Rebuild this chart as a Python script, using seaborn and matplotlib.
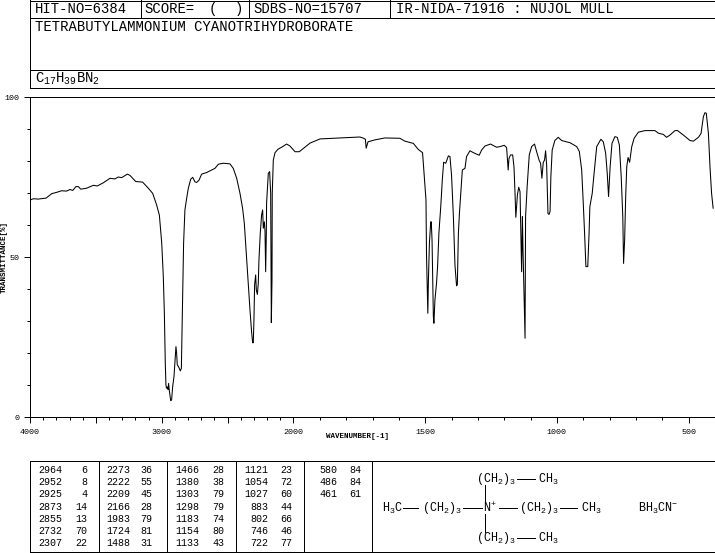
import numpy as np
import pandas as pd
import matplotlib
matplotlib.use("Agg")
import matplotlib.pyplot as plt
from matplotlib.lines import Line2D
from matplotlib.ticker import FixedLocator, FixedFormatter
import seaborn as sns

W, H = 715, 553

wavenumber = [
    4000, 3975, 3937, 3878, 3835, 3798, 3760, 3722, 3696, 3676, 3651, 3633, 3615, 3570, 3519, 3489,
    3443, 3393, 3355, 3330, 3304, 3261, 3241, 3198, 3145, 3102, 3069, 3039, 3018, 3000, 2988, 2980,
    2973, 2968, 2964, 2958, 2952, 2948, 2943, 2932, 2925, 2917, 2907, 2899, 2892, 2887, 2882, 2872,
    2859, 2851, 2846, 2839, 2834, 2824, 2811, 2798, 2780, 2765, 2748, 2735, 2717, 2697, 2659, 2596,
    2570, 2533, 2482, 2457, 2431, 2406, 2386, 2373, 2360, 2345, 2330, 2318, 2310, 2305, 2300, 2295,
    2287, 2282, 2274, 2267, 2262, 2252, 2242, 2234, 2229, 2221, 2216, 2211, 2206, 2204, 2191, 2181,
    2173, 2168, 2163, 2161, 2153, 2140, 2117, 2090, 2052, 2027, 1994, 1978, 1937, 1899, 1824, 1748,
    1736, 1727, 1724, 1717, 1691, 1653, 1596, 1577, 1545, 1526, 1510, 1503, 1497, 1495, 1490, 1488,
    1484, 1479, 1477, 1474, 1472, 1469, 1467, 1463, 1457, 1453, 1448, 1441, 1435, 1430, 1422, 1412,
    1406, 1400, 1393, 1387, 1381, 1378, 1374, 1370, 1365, 1359, 1349, 1343, 1330, 1317, 1295, 1286,
    1273, 1252, 1229, 1216, 1200, 1191, 1185, 1182, 1176, 1168, 1163, 1159, 1156, 1150, 1145, 1140,
    1136, 1134, 1131, 1129, 1121, 1119, 1113, 1105, 1096, 1085, 1077, 1067, 1062, 1057, 1052, 1047,
    1043, 1039, 1034, 1030, 1026, 1023, 1018, 1008, 995, 982, 950, 925, 915, 906, 900, 895,
    890, 883, 878, 875, 866, 859, 849, 833, 824, 815, 809, 804, 798, 791, 780, 771,
    763, 756, 750, 747, 743, 739, 735, 730, 724, 716, 707, 691, 666, 628, 615, 596,
    584, 571, 552, 542, 520, 495, 482, 463, 453, 444, 438, 433, 425, 419, 413, 407,
]
transmittance = [
    67.8, 68.2, 68.1, 68.4, 69.8, 70.2, 70.7, 70.6, 71.1, 70.8, 72.0, 72.0, 71.2, 71.5, 72.4, 72.2,
    73.2, 74.6, 74.4, 75.0, 74.8, 75.9, 75.5, 73.6, 73.4, 71.5, 69.9, 66.3, 63.1, 54.3, 43.9, 32.4,
    16.8, 10.0, 9.0, 9.4, 8.6, 10.5, 8.5, 5.1, 5.3, 9.5, 12.6, 17.8, 22.0, 19.9, 16.3, 15.7,
    14.4, 15.2, 26.7, 43.9, 54.3, 64.7, 68.3, 71.5, 74.3, 74.9, 73.5, 73.3, 74.0, 75.9, 76.4, 77.7,
    79.0, 79.3, 79.1, 77.7, 74.6, 69.9, 65.2, 60.5, 52.2, 42.3, 33.4, 26.7, 23.2, 23.2, 30.3, 41.3,
    44.4, 39.7, 38.3, 41.8, 49.0, 57.4, 63.1, 64.7, 59.0, 61.0, 58.0, 45.4, 57.4, 66.8, 76.1, 76.7,
    69.9, 29.5, 42.8, 69.9, 80.3, 82.6, 83.7, 84.3, 85.3, 84.7, 82.9, 82.9, 85.6, 86.9, 87.2, 87.5,
    87.2, 86.8, 84.0, 86.0, 86.6, 87.2, 87.1, 86.2, 85.5, 83.6, 82.6, 74.6, 67.8, 50.6, 32.4, 42.0,
    54.3, 61.0, 61.0, 55.3, 44.9, 31.4, 29.3, 36.6, 41.8, 47.0, 57.4, 65.7, 74.1, 79.6, 79.3, 81.6,
    81.4, 75.6, 62.6, 47.5, 41.0, 41.3, 57.4, 63.7, 69.9, 77.2, 77.7, 81.4, 83.2, 82.6, 81.8, 83.4,
    84.7, 85.3, 84.3, 84.5, 84.9, 84.2, 77.2, 80.8, 81.9, 81.9, 78.2, 69.9, 62.4, 69.4, 71.8, 70.4,
    54.3, 45.4, 62.6, 53.2, 24.6, 62.6, 72.0, 81.9, 84.5, 85.3, 82.9, 80.1, 79.3, 74.6, 79.5, 80.3,
    83.2, 78.7, 63.6, 63.3, 64.2, 75.1, 83.4, 86.4, 87.4, 86.4, 85.7, 84.5, 83.0, 77.2, 66.8, 57.4,
    47.0, 47.0, 57.4, 65.7, 69.9, 76.1, 84.5, 86.8, 86.0, 82.4, 76.1, 68.9, 78.2, 85.5, 87.6, 87.4,
    85.0, 75.1, 62.6, 48.0, 55.3, 68.9, 78.2, 81.1, 79.6, 84.5, 87.1, 89.0, 89.5, 89.5, 88.7, 88.3,
    87.4, 88.1, 89.5, 89.5, 88.1, 86.4, 86.2, 87.4, 88.6, 93.9, 95.1, 94.9, 88.6, 78.2, 69.9, 65.2,
]

x_ticks = [4000, 3500, 3000, 2500, 2000, 1500, 1000, 500]
x_tick_labels = ["4000", "", "3000", "", "2000", "1500", "1000", "500"]
y_ticks = [0, 50, 100]
y_tick_labels = ["0", "50", "100"]

header_cells = ["HIT-NO=6384", "SCORE=", "(", ")", "SDBS-NO=15707", "IR-NIDA-71916 : NUJOL MULL"]
compound_name = "TETRABUTYLAMMONIUM CYANOTRIHYDROBORATE"
formula = "C$_{17}$H$_{39}$BN$_{2}$"

peak_columns = [
    [("2964", "6"), ("2952", "8"), ("2925", "4"), ("2873", "14"), ("2855", "13"), ("2732", "70"), ("2307", "22")],
    [("2273", "36"), ("2222", "55"), ("2209", "45"), ("2166", "28"), ("1983", "79"), ("1724", "81"), ("1488", "31")],
    [("1466", "28"), ("1380", "38"), ("1303", "79"), ("1298", "79"), ("1183", "74"), ("1154", "80"), ("1133", "43")],
    [("1121", "23"), ("1054", "72"), ("1027", "60"), ("883", "44"), ("802", "66"), ("746", "46"), ("722", "77")],
    [("580", "84"), ("486", "84"), ("461", "61")],
]

sns.set_theme(style="ticks")
plt.rcParams["font.family"] = ["Liberation Mono", "DejaVu Sans Mono"]
plt.rcParams["mathtext.default"] = "regular"

LW = 0.7


def forward(w):
    w = np.asarray(w, dtype=float)
    return np.where(w >= 2000, w / 2000 + 1, w / 1000)


def inverse(u):
    u = np.asarray(u, dtype=float)
    return np.where(u >= 2, (u - 1) * 2000, u * 1000)


def ftext(x, y, s, size=10, ha="left", va="center", **kw):
    fig.text(x / W, 1 - y / H, s, fontsize=size, ha=ha, va=va, color="black", **kw)


def fline(x0, y0, x1, y1):
    fig.add_artist(Line2D([x0 / W, x1 / W], [1 - y0 / H, 1 - y1 / H], color="black", lw=LW, antialiased=False))


fig = plt.figure(figsize=(W / 100, H / 100), dpi=100, facecolor="white")
ax = fig.add_axes([30 / W, 1 - 417 / H, 685 / W, 320 / H])

df = pd.DataFrame({"wavenumber": wavenumber, "transmittance": transmittance})
sns.lineplot(data=df, x="wavenumber", y="transmittance", ax=ax, sort=False, estimator=None,
             color="black", linewidth=0.75, antialiased=True)

ax.set_xscale("function", functions=(forward, inverse))
ax.set_xlim(4000, 400)
ax.set_ylim(0, 100)
ax.xaxis.set_major_locator(FixedLocator(x_ticks))
ax.xaxis.set_major_formatter(FixedFormatter(x_tick_labels))
ax.xaxis.set_minor_locator(FixedLocator(np.arange(400, 4001, 100)))
ax.yaxis.set_major_locator(FixedLocator(y_ticks))
ax.yaxis.set_major_formatter(FixedFormatter(y_tick_labels))
ax.yaxis.set_minor_locator(FixedLocator(np.arange(0, 101, 10)))
ax.tick_params(axis="both", which="major", length=4.3, width=LW, labelsize=6, color="black", labelcolor="black")
ax.tick_params(axis="both", which="minor", length=2.2, width=LW, color="black")
ax.tick_params(axis="x", which="major", pad=4)
ax.tick_params(axis="y", which="major", pad=3)

for side in ["left", "top", "bottom"]:
    ax.spines[side].set_linewidth(LW)
    ax.spines[side].set_color("black")
    ax.spines[side].set_antialiased(False)
ax.spines["right"].set_visible(False)

ax.set_xlabel("")
ax.set_ylabel("")
ftext(358, 437, "WAVENUMBER[-1]", size=5.4, ha="center", fontweight="bold")
ftext(4, 257, "TRANSMITTANCE[%]", size=5.4, ha="center", rotation=90, fontweight="bold")

# header box
fline(29.5, 0.5, 715, 0.5)
fline(29.5, 17.5, 715, 17.5)
fline(29.5, 69.5, 715, 69.5)
fline(29.5, 87.5, 715, 87.5)
fline(29.5, 0, 29.5, 87.5)
for sep in [140.5, 248.5, 390.5]:
    fline(sep, 0, sep, 17.5)
for x0, cell in zip([35, 144, 209, 235, 253, 396], header_cells):
    ftext(x0, 9, cell)
ftext(35, 27, compound_name)
ftext(35, 79, formula)

# peak table
table_left, table_right, table_top, table_bottom = 29.5, 372.5, 460.5, 552
fline(table_left, table_top, 715, table_top)
fline(table_left, table_bottom, 715, table_bottom)
fline(714.5, table_top, 714.5, table_bottom)
for sep in [29.5, 98.5, 166.5, 235.5, 303.5, 372.5]:
    fline(sep, table_top, sep, table_bottom)
row_y = [470, 482, 494.3, 506.6, 519, 531, 543.3]
col_x = [(62.5, 87), (130, 152), (199, 224), (268, 292), (337, 361)]
for (xw, xv), rows in zip(col_x, peak_columns):
    for y, (wn, t) in zip(row_y, rows):
        ftext(xw, y, wn, size=7.2, ha="right")
        ftext(xv, y, t, size=7.2, ha="right")

# structure
ch2 = "(CH$_2$)$_3$"
ch3 = "CH$_3$"
ftext(476, 479, ch2, size=8.5)
fline(517, 479, 535, 479)
ftext(538, 479, ch3, size=8.5)
ftext(382, 508, "H$_3$C", size=8.5)
fline(403, 508, 418, 508)
ftext(422, 508, ch2, size=8.5)
fline(463, 508, 482, 508)
ftext(483, 508, "N$^{+}$", size=8.5)
fline(499, 508, 517, 508)
ftext(519, 508, ch2, size=8.5)
fline(560, 508, 577, 508)
ftext(581, 508, ch3, size=8.5)
fline(485, 485, 485, 503)
fline(485, 514, 485, 532)
ftext(476, 538, ch2, size=8.5)
fline(517, 538, 535, 538)
ftext(538, 538, ch3, size=8.5)
ftext(638, 508, "BH$_3$CN$^{-}$", size=8.5)

fig.savefig("out.png", dpi=100)
